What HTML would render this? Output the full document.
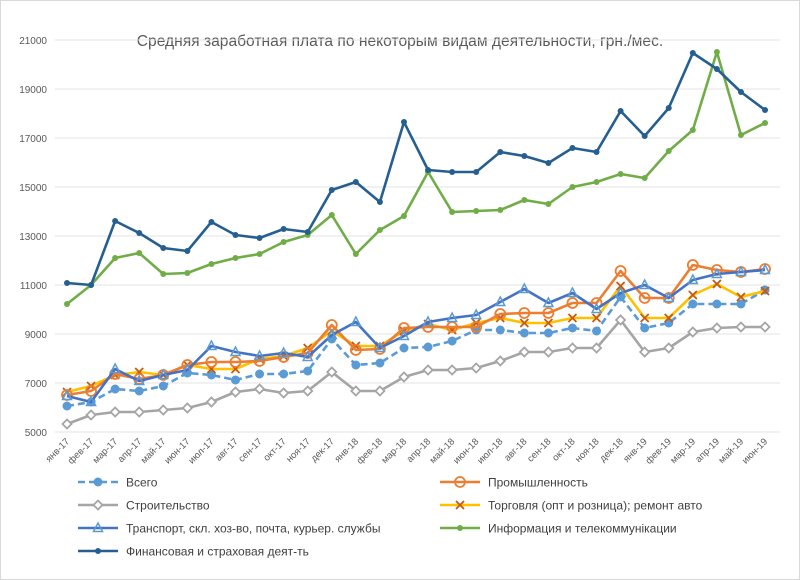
<!DOCTYPE html><html><head><meta charset="utf-8"><style>body{margin:0;background:#fff}svg{display:block;font-family:"Liberation Sans",sans-serif}</style></head><body>
<svg id="s" width="800" height="580" xmlns="http://www.w3.org/2000/svg">
<rect x="0.5" y="0.5" width="799" height="579" fill="#fff" stroke="#d9d9d9"/>
<text x="400" y="46" text-anchor="middle" font-size="15.6" fill="#595959">Средняя заработная плата по некоторым видам деятельности, грн./мес.</text>
</svg>
<script>
const s=document.getElementById('s');const NS='http://www.w3.org/2000/svg';
function el(t,a,txt){const e=document.createElementNS(NS,t);for(const k in a)e.setAttribute(k,a[k]);if(txt!=null)e.textContent=txt;s.appendChild(e);return e;}
for(let i=0;i<9;i++){const y=40+i*49;el('line',{x1:55,x2:780,y1:y,y2:y,stroke:'#e3e3e3','stroke-width':1});el('text',{x:47,y:y+4,'text-anchor':'end','font-size':10,fill:'#595959'},String(21000-2000*i));}
const m=['янв','фев','мар','апр','май','июн','июл','авг','сен','окт','ноя','дек'];
const X=i=>67+24.07*i;
for(let i=0;i<30;i++){const lab=m[i%12]+'-'+(17+Math.floor(i/12));const x=X(i)+3,y=442;el('text',{x:x,y:y,'text-anchor':'end','font-size':9.5,fill:'#595959',transform:`rotate(-45 ${x} ${y})`},lab);}
const S=[
{c:'#a5a5a5',mk:'d',d:[424,415,412,412,410,408,402,392,389,393,391,372,391,391,377,370,370,368,361,352,352,348,348,320,352,348,332,328,327,327]},
{c:'#5b9bd5',mk:'c',dash:'7 4',d:[406,402,389,391,386,373,375,380,374,374,371,339,365,363,348,347,341,330,330,333,333,328,331,297,328,323,304,304,304,290]},
{c:'#ffc000',mk:'x',mc:'#c55a11',d:[392,386,375,372,375,365,369,369,359,356,348,331,346,346,331,324,330,323,318,323,323,318,318,286,318,318,295,284,297,291]},
{c:'#ed7d31',mk:'o',d:[395,391,374,379,375,365,362,362,361,357,353,325,350,349,328,327,327,327,314,313,313,303,303,271,298,298,265,270,272,269]},
{c:'#4472c4',mk:'t',mc:'#5b9bd5',d:[396,402,369,381,375,370,346,352,356,353,357,335,322,348,336,322,318,315,302,289,303,293,309,293,285,298,280,274,272,270]},
{c:'#70ad47',mk:'s',d:[304,285,258,253,274,273,264,258,254,242,235,215,254,230,216,172,212,211,210,200,204,187,182,174,178,151,130,52,135,123]},
{c:'#255e91',mk:'s',d:[283,285,221,233,248,251,222,235,238,229,232,190,182,202,122,170,172,172,152,156,163,148,152,111,136,108,53,69,92,110]}];
function mark(t,x,y,c,mc){mc=mc||c;
 if(t=='d')el('path',{d:`M${x} ${y-4.5}L${x+4.5} ${y}L${x} ${y+4.5}L${x-4.5} ${y}Z`,fill:'#fff',stroke:mc,'stroke-width':1.8});
 else if(t=='c')el('circle',{cx:x,cy:y,r:4.5,fill:mc});
 else if(t=='x')el('path',{d:`M${x-4} ${y-4}L${x+4} ${y+4}M${x+4} ${y-4}L${x-4} ${y+4}`,stroke:mc,'stroke-width':1.8});
 else if(t=='o')el('circle',{cx:x,cy:y,r:5,fill:'none',stroke:mc,'stroke-width':1.8});
 else if(t=='t')el('path',{d:`M${x} ${y-5}L${x+4.5} ${y+3.5}L${x-4.5} ${y+3.5}Z`,fill:'none',stroke:mc,'stroke-width':1.5});
 else el('circle',{cx:x,cy:y,r:3,fill:mc});}
for(const q of S){el('polyline',{points:q.d.map((y,i)=>X(i)+','+y).join(' '),fill:'none',stroke:q.c,'stroke-width':2.6,'stroke-dasharray':q.dash||'none','stroke-linejoin':'round'});q.d.forEach((y,i)=>mark(q.mk,X(i),y,q.c,q.mc));}
const L=[[1,'Всего',78,482],[3,'Промышленность',440,482],[0,'Строительство',78,505],[2,'Торговля (опт и розница); ремонт авто',440,505],[4,'Транспорт, скл. хоз-во, почта, курьер. службы',78,528],[5,'Информация и телекоммунікации',440,528],[6,'Финансовая и страховая деят-ть',78,551]];
for(const [k,t,x,y] of L){const q=S[k];el('line',{x1:x,x2:x+40,y1:y,y2:y,stroke:q.c,'stroke-width':2.6,'stroke-dasharray':q.dash||'none'});mark(q.mk,x+20,y,q.c,q.mc);el('text',{x:x+48,y:y+4.5,'font-size':12,fill:'#404040'},t);}
</script></body></html>
